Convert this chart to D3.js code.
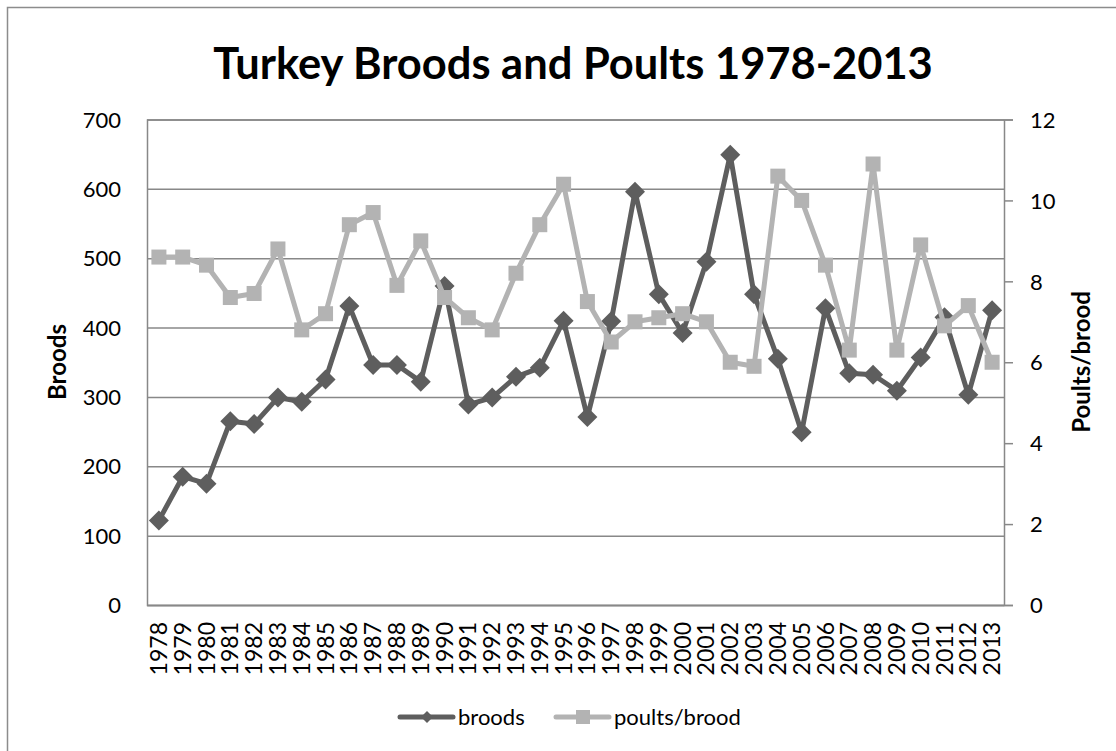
<!DOCTYPE html>
<html>
<head>
<meta charset="utf-8">
<script src="https://cdn.jsdelivr.net/npm/d3@7"></script>
<style>
  body { margin: 0; background: #fff; }
  text { font-family: Lato, "Open Sans", sans-serif; fill: #000; }
</style>
</head>
<body>
<svg class="chart"></svg>
<script>
// data
var years = ["1978","1979","1980","1981","1982","1983","1984","1985","1986","1987","1988","1989",
  "1990","1991","1992","1993","1994","1995","1996","1997","1998","1999","2000","2001",
  "2002","2003","2004","2005","2006","2007","2008","2009","2010","2011","2012","2013"];
var broods = [122,185,175,265,261,299,293,325,431,346,346,322,
  460,289,299,329,342,410,271,409,596,448,392,495,
  649,448,355,249,428,334,332,309,357,415,303,425];
var poultsPerBrood = [8.6,8.6,8.4,7.6,7.7,8.8,6.8,7.2,9.4,9.7,7.9,9.0,
  7.6,7.1,6.8,8.2,9.4,10.4,7.5,6.5,7.0,7.1,7.2,7.0,
  6.0,5.9,10.6,10.0,8.4,6.3,10.9,6.3,8.9,6.9,7.4,6.0];
var leftTicks = [0,100,200,300,400,500,600,700];
var rightTicks = [0,2,4,6,8,10,12];

var width = 1116, height = 751;
var plotLeft = 147, plotRight = 1004, plotTop = 119.5, plotBottom = 605;
var darkGray = "#5e5e5e", lightGray = "#b3b3b3", gridGray = "#888";

var svg = d3.select(".chart")
  .attr("width", width)
  .attr("height", height);

// chart border (runs off the page on right and bottom)
svg.append("rect")
  .attr("x", 7.5).attr("y", 7.5)
  .attr("width", 1130).attr("height", 800)
  .attr("fill", "none")
  .attr("stroke", "#8c8c8c")
  .attr("stroke-width", 1.5);

var x = d3.scaleBand().domain(years).range([plotLeft, plotRight]);
var yL = d3.scaleLinear().domain([0, 700]).range([plotBottom, plotTop]);
var yR = d3.scaleLinear().domain([0, 12]).range([plotBottom, plotTop]);

// left axis + gridlines
var gL = svg.append("g")
  .attr("transform", "translate(" + plotLeft + ",0)")
  .call(d3.axisLeft(yL).tickValues(leftTicks).tickSize(-(plotRight - plotLeft)).tickPadding(26));
gL.select(".domain").attr("stroke", gridGray).attr("stroke-width", 1.5);
gL.selectAll(".tick line").attr("stroke", gridGray).attr("stroke-width", 1.5);
gL.selectAll(".tick text").style("font-size", "22px").attr("dy", "0.35em");

// right axis
var gR = svg.append("g")
  .attr("transform", "translate(" + plotRight + ",0)")
  .call(d3.axisRight(yR).tickValues(rightTicks).tickSize(9).tickPadding(17));
gR.select(".domain").attr("stroke", gridGray).attr("stroke-width", 1.5);
gR.selectAll(".tick line").attr("stroke", gridGray).attr("stroke-width", 1.5);
gR.selectAll(".tick text").style("font-size", "22px").attr("dy", "0.35em");

// bottom axis
var gB = svg.append("g")
  .attr("transform", "translate(0," + plotBottom + ")")
  .call(d3.axisBottom(x).tickSize(0).tickSizeOuter(0));
gB.select(".domain").attr("stroke", gridGray).attr("stroke-width", 1.5);
gB.selectAll(".tick text")
  .style("font-size", "23px")
  .attr("transform", "rotate(-90)")
  .attr("text-anchor", "end")
  .attr("x", -17)
  .attr("y", 0)
  .attr("dy", "0.35em");

// lines
var cx = function (d, i) { return x(years[i]) + x.bandwidth() / 2; };
var lineL = d3.line().x(cx).y(function (d) { return yL(d); });
var lineR = d3.line().x(cx).y(function (d) { return yR(d); });

var diamond = "M0,-10L10,0L0,10L-10,0Z";

svg.append("path")
  .datum(broods)
  .attr("d", lineL)
  .attr("fill", "none")
  .attr("stroke", darkGray)
  .attr("stroke-width", 5)
  .attr("stroke-linejoin", "round");
svg.selectAll(".brood-pt")
  .data(broods)
  .enter()
  .append("path")
  .attr("class", "brood-pt")
  .attr("d", diamond)
  .attr("fill", darkGray)
  .attr("transform", function (d, i) {
    return "translate(" + cx(d, i) + "," + yL(d) + ")";
  });

svg.append("path")
  .datum(poultsPerBrood)
  .attr("d", lineR)
  .attr("fill", "none")
  .attr("stroke", lightGray)
  .attr("stroke-width", 5)
  .attr("stroke-linejoin", "round");
svg.selectAll(".poult-pt")
  .data(poultsPerBrood)
  .enter()
  .append("rect")
  .attr("class", "poult-pt")
  .attr("x", function (d, i) { return cx(d, i) - 7.5; })
  .attr("y", function (d) { return yR(d) - 7.5; })
  .attr("width", 15)
  .attr("height", 15)
  .attr("fill", lightGray);

// title
var title = svg.append("text")
  .attr("x", 573)
  .attr("y", 79)
  .attr("text-anchor", "middle")
  .style("font-size", "40px")
  .style("font-weight", "bold")
  .text("Turkey Broods and Poults 1978-2013");
var tw = title.node().getComputedTextLength();
title.style("font-size", (40 * 720 / tw) + "px");

// axis titles
svg.append("text")
  .attr("transform", "translate(66,362) rotate(-90)")
  .attr("text-anchor", "middle")
  .style("font-size", "24px")
  .style("font-weight", "bold")
  .text("Broods");
svg.append("text")
  .attr("transform", "translate(1090,362) rotate(-90)")
  .attr("text-anchor", "middle")
  .style("font-size", "24px")
  .style("font-weight", "bold")
  .text("Poults/brood");

// legend
var legend = svg.append("g").attr("transform", "translate(0,717)");
legend.append("line").attr("x1", 400).attr("x2", 453).attr("y1", 0).attr("y2", 0)
  .attr("stroke", darkGray).attr("stroke-width", 5).attr("stroke-linecap", "round");
legend.append("path").attr("d", "M0,-6L6,0L0,6L-6,0Z").attr("fill", darkGray)
  .attr("transform", "translate(427,0)");
legend.append("text").attr("x", 458).attr("y", 0).attr("dy", "0.35em")
  .style("font-size", "22px").text("broods");
legend.append("line").attr("x1", 556).attr("x2", 609).attr("y1", 0).attr("y2", 0)
  .attr("stroke", lightGray).attr("stroke-width", 5).attr("stroke-linecap", "round");
legend.append("rect").attr("x", 576).attr("y", -7).attr("width", 14).attr("height", 14)
  .attr("fill", lightGray);
legend.append("text").attr("x", 614).attr("y", 0).attr("dy", "0.35em")
  .style("font-size", "22px").text("poults/brood");
</script>
</body>
</html>
